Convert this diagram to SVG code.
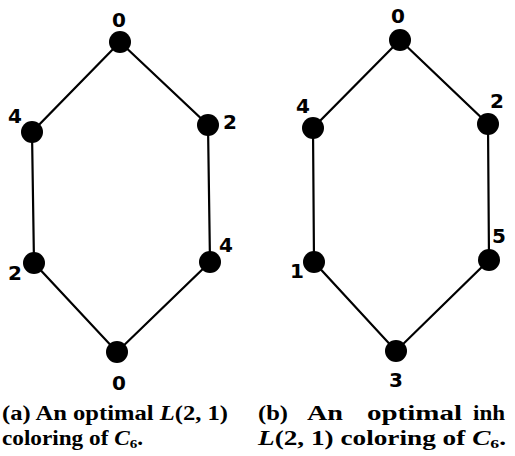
<svg xmlns="http://www.w3.org/2000/svg" width="515" height="456" viewBox="0 0 515 456">
<style>
.e{stroke:#000;stroke-width:2.2;fill:none}
.n{fill:#000}
.l{font-family:"DejaVu Sans",sans-serif;font-weight:bold;font-size:20px;fill:#000;text-anchor:middle}
.c{font-family:"Liberation Serif",serif;font-weight:bold;font-size:20px;fill:#000}
.i{font-style:italic}
</style>
<rect width="515" height="456" fill="#fff"/>
<g id="connectors">
<polyline class="e" points="120,42 32,132 34,263 117,352 210,262 208,125 120,42"/>
<polyline class="e" points="400,40 313,128 314,262 396,351 489,260 488,124 400,40"/>
</g>
<g id="a0"><circle class="n" cx="120" cy="42" r="11"/><text class="l" x="119" y="27">0</text></g>
<g id="a4"><circle class="n" cx="32" cy="132" r="11"/><text class="l" x="15" y="123">4</text></g>
<g id="a2"><circle class="n" cx="208" cy="125" r="11"/><text class="l" x="230" y="129">2</text></g>
<g id="a2b"><circle class="n" cx="34" cy="263" r="11"/><text class="l" x="15" y="280">2</text></g>
<g id="a4b"><circle class="n" cx="210" cy="262" r="11"/><text class="l" x="226" y="252">4</text></g>
<g id="a0b"><circle class="n" cx="117" cy="352" r="11"/><text class="l" x="119" y="390">0</text></g>
<g id="b0"><circle class="n" cx="400" cy="40" r="11"/><text class="l" x="398" y="23">0</text></g>
<g id="b4"><circle class="n" cx="313" cy="128" r="11"/><text class="l" x="303" y="113">4</text></g>
<g id="b2"><circle class="n" cx="488" cy="124" r="11"/><text class="l" x="497" y="108">2</text></g>
<g id="b1"><circle class="n" cx="314" cy="262" r="11"/><text class="l" x="297" y="278">1</text></g>
<g id="b5"><circle class="n" cx="489" cy="260" r="11"/><text class="l" x="499" y="243">5</text></g>
<g id="b3"><circle class="n" cx="396" cy="351" r="11"/><text class="l" x="396" y="387">3</text></g>
<text class="c" x="2" y="420" textLength="226" lengthAdjust="spacingAndGlyphs">(a) An optimal <tspan class="i">L</tspan>(2, 1)</text>
<text class="c" x="2" y="445" textLength="141" lengthAdjust="spacingAndGlyphs">coloring of <tspan class="i">C</tspan><tspan font-size="13" dy="3">6</tspan><tspan dy="-3">.</tspan></text>
<text class="c" x="258" y="420" textLength="30" lengthAdjust="spacingAndGlyphs">(b)</text>
<text class="c" x="307" y="420" textLength="36" lengthAdjust="spacingAndGlyphs">An</text>
<text class="c" x="367" y="420" textLength="95" lengthAdjust="spacingAndGlyphs">optimal</text>
<text class="c" x="473" y="420" textLength="32" lengthAdjust="spacingAndGlyphs">inh</text>
<text class="c" x="258" y="445" textLength="248" lengthAdjust="spacingAndGlyphs"><tspan class="i">L</tspan>(2, 1) coloring of <tspan class="i">C</tspan><tspan font-size="13" dy="3">6</tspan><tspan dy="-3">.</tspan></text>
</svg>
